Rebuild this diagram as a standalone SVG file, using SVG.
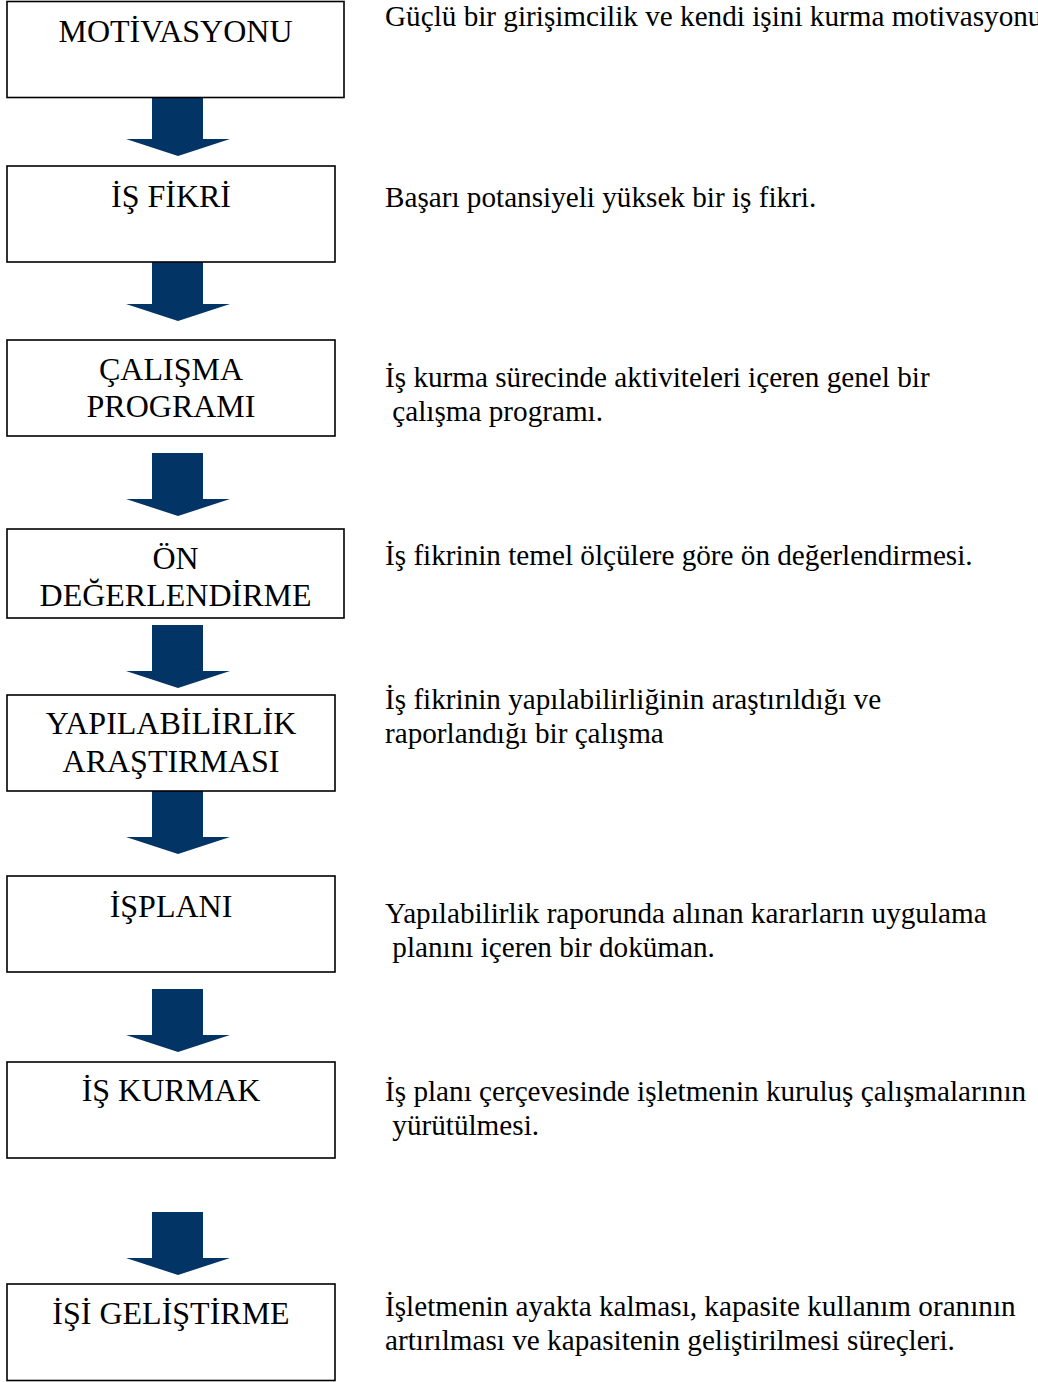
<svg xmlns="http://www.w3.org/2000/svg" xmlns:xlink="http://www.w3.org/1999/xlink" width="1038" height="1382" viewBox="0 0 1038 1382">
<style>
.box{fill:#fff;stroke:#000;stroke-width:1.6}
.bt{font-family:"Liberation Serif","Times New Roman",serif;font-size:32px;fill:#000;text-anchor:middle}
.dt{font-family:"Liberation Serif","Times New Roman",serif;font-size:29.2px;fill:#000}
.arr{fill:#033466}
</style>
<defs>
<path id="arrow" class="arr" d="M152,0 H203 V46 H230 L178,63 L126,46 H152 Z"/>
</defs>
<rect width="1038" height="1382" fill="#fff"/>
<g id="connectors">
<use xlink:href="#arrow" href="#arrow" transform="translate(0,93)"/>
<use xlink:href="#arrow" href="#arrow" transform="translate(0,258)"/>
<use xlink:href="#arrow" href="#arrow" transform="translate(0,453)"/>
<use xlink:href="#arrow" href="#arrow" transform="translate(0,625)"/>
<use xlink:href="#arrow" href="#arrow" transform="translate(0,791)"/>
<use xlink:href="#arrow" href="#arrow" transform="translate(0,989)"/>
<use xlink:href="#arrow" href="#arrow" transform="translate(0,1212)"/>
</g>
<g id="n1">
<rect class="box" x="7" y="1.5" width="337" height="96"/>
<text class="bt" x="175.5" y="42">MOTİVASYONU</text>
</g>
<g id="n2">
<rect class="box" x="7" y="166" width="328" height="96"/>
<text class="bt" x="171" y="207">İŞ FİKRİ</text>
</g>
<g id="n3">
<rect class="box" x="7" y="340" width="328" height="96"/>
<text class="bt" x="171" y="380">ÇALIŞMA</text>
<text class="bt" x="171" y="417">PROGRAMI</text>
</g>
<g id="n4">
<rect class="box" x="7" y="529" width="337" height="89"/>
<text class="bt" x="175.5" y="569">ÖN</text>
<text class="bt" x="175.5" y="606">DEĞERLENDİRME</text>
</g>
<g id="n5">
<rect class="box" x="7" y="695" width="328" height="96"/>
<text class="bt" x="171" y="734">YAPILABİLİRLİK</text>
<text class="bt" x="171" y="772">ARAŞTIRMASI</text>
</g>
<g id="n6">
<rect class="box" x="7" y="876" width="328" height="96"/>
<text class="bt" x="171" y="917">İŞPLANI</text>
</g>
<g id="n7">
<rect class="box" x="7" y="1062" width="328" height="96"/>
<text class="bt" x="171" y="1101">İŞ KURMAK</text>
</g>
<g id="n8">
<rect class="box" x="7" y="1284" width="328" height="96.5"/>
<text class="bt" x="171" y="1324">İŞİ GELİŞTİRME</text>
</g>
<g id="descriptions">
<text class="dt" x="385" y="26">Güçlü bir girişimcilik ve kendi işini kurma motivasyonu</text>
<text class="dt" x="385" y="207">Başarı potansiyeli yüksek bir iş fikri.</text>
<text class="dt" x="385" y="387">İş kurma sürecinde aktiviteleri içeren genel bir</text>
<text class="dt" x="385" y="421" xml:space="preserve"> çalışma programı.</text>
<text class="dt" x="385" y="565">İş fikrinin temel ölçülere göre ön değerlendirmesi.</text>
<text class="dt" x="385" y="709">İş fikrinin yapılabilirliğinin araştırıldığı ve</text>
<text class="dt" x="385" y="743">raporlandığı bir çalışma</text>
<text class="dt" x="385" y="923">Yapılabilirlik raporunda alınan kararların uygulama</text>
<text class="dt" x="385" y="957" xml:space="preserve"> planını içeren bir doküman.</text>
<text class="dt" x="385" y="1101">İş planı çerçevesinde işletmenin kuruluş çalışmalarının</text>
<text class="dt" x="385" y="1135" xml:space="preserve"> yürütülmesi.</text>
<text class="dt" x="385" y="1316">İşletmenin ayakta kalması, kapasite kullanım oranının</text>
<text class="dt" x="385" y="1350">artırılması ve kapasitenin geliştirilmesi süreçleri.</text>
</g>
</svg>
